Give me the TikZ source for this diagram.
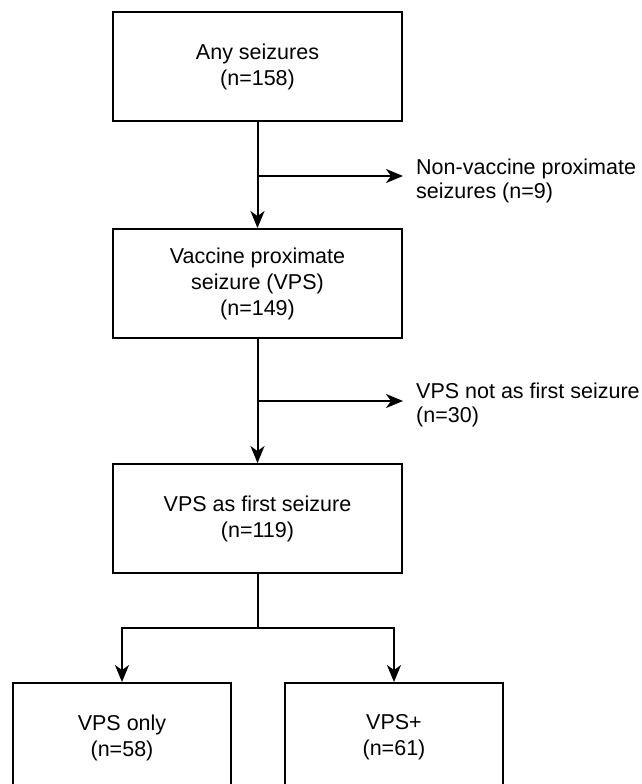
\documentclass[tikz,border=0pt]{standalone}
\usepackage{fontspec}
\setmainfont{Liberation Sans}
\usetikzlibrary{arrows.meta}
\begin{document}
\begin{tikzpicture}[x=1pt,y=-1pt,
  txt/.style={font=\fontsize{21.5}{26}\selectfont},
  box/.style={txt, draw, line width=1.9pt, minimum width=289pt,
    minimum height=109pt, align=center, inner sep=0pt},
  subbox/.style={box, minimum width=218pt},
  side/.style={font=\fontsize{21.5}{24}\selectfont, anchor=west, align=left,
    inner xsep=13pt, inner ysep=0pt},
  link/.style={line width=2pt},
  arr/.style={link, -{Stealth[length=17pt, width=14pt, inset=5pt]}}]
\useasboundingbox (0,0) rectangle (641,784);
\fill[white] (0,0) rectangle (641,784);
\begin{scope}
\clip (0,0) rectangle (641,784);

% main column
\node[box] (any) at (257.5,66.5) {Any seizures\\(n=158)};
\node[box] (vps) at (257.5,283.5) {Vaccine proximate\\seizure (VPS)\\(n=149)};
\node[box] (first) at (257.5,518.5) {VPS as first seizure\\(n=119)};

% the two groups at the bottom
\node[subbox] (only) at (122,737.5) {VPS only\\(n=58)};
\node[subbox] (plus) at (394,737.5) {VPS+\\(n=61)};

% exclusions
\coordinate (j1) at (257.5,176);
\coordinate (j2) at (257.5,401);
\coordinate (j3) at (257.5,628);
\node[side] (nonvps) at (403,181) {Non-vaccine proximate\\seizures (n=9)};
\node[side] (notfirst) at (403,405) {VPS not as first seizure\\(n=30)};

\draw[arr] (any.south) -- (vps.north);
\draw[arr] (vps.south) -- (first.north);
\draw[arr] (j1) -- (j1 -| nonvps.west);
\draw[arr] (j2) -- (j2 -| notfirst.west);
\draw[link] (first.south) -- (j3);
\draw[arr] (j3) -| (only.north);
\draw[arr] (j3) -| (plus.north);
\end{scope}
\end{tikzpicture}
\end{document}
